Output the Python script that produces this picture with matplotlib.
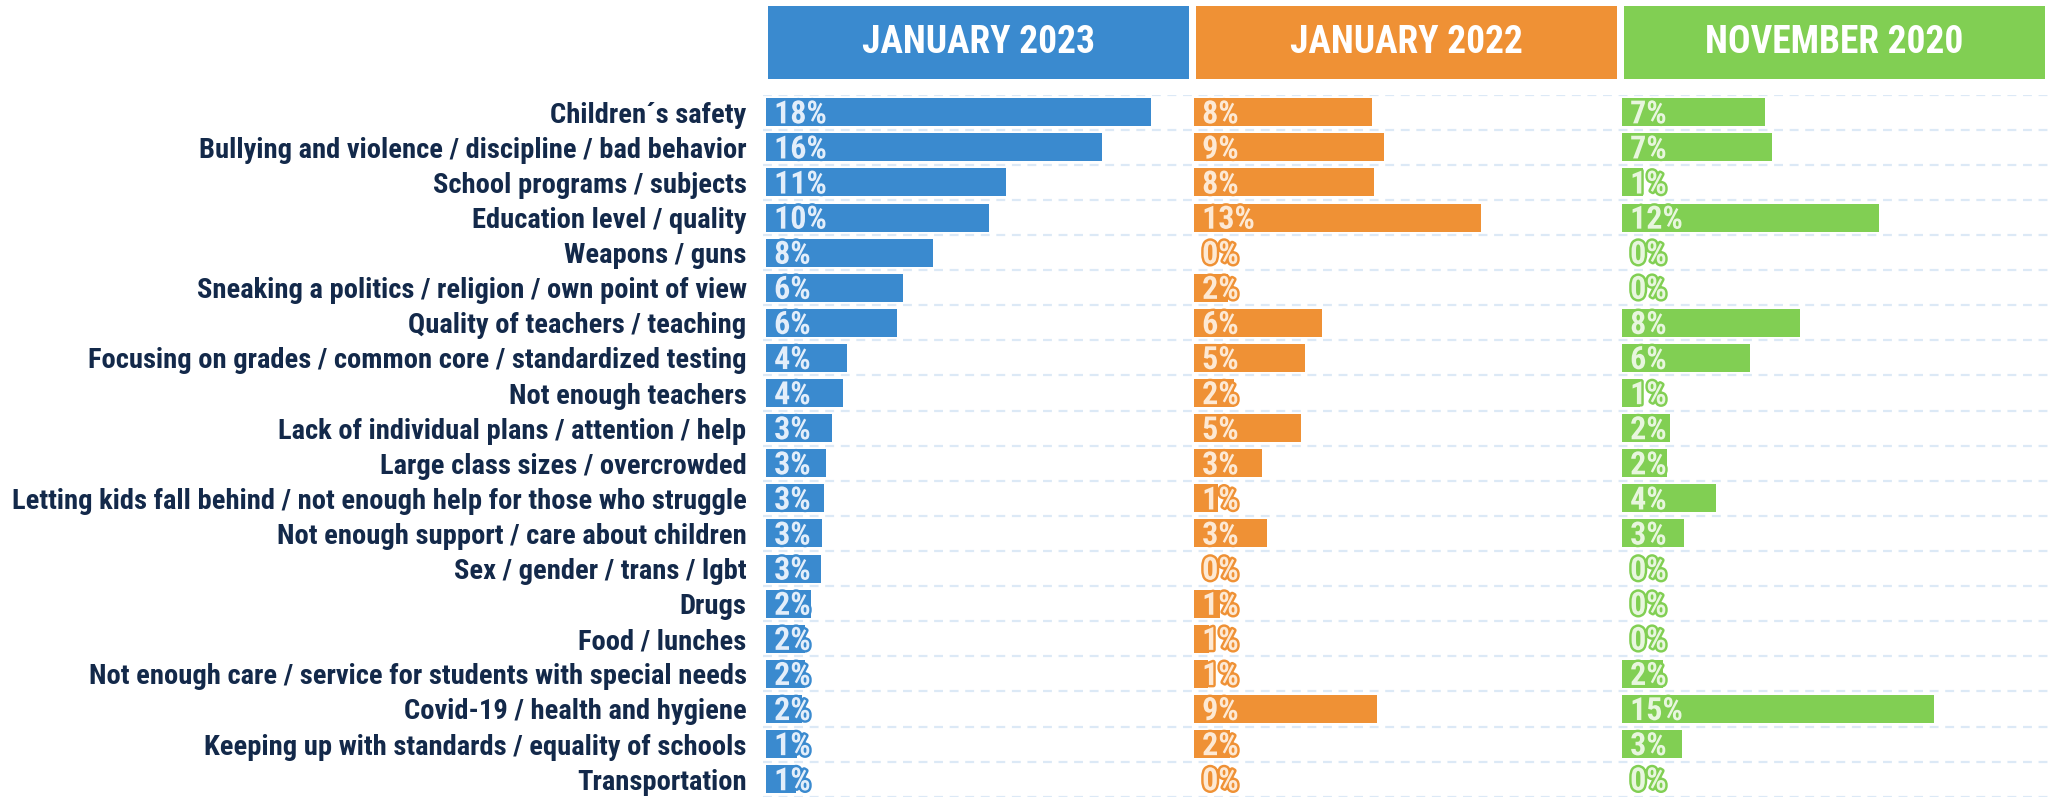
import matplotlib
matplotlib.use("Agg")
import matplotlib.pyplot as plt
import matplotlib.patheffects as pe
from matplotlib import font_manager

categories = [
    "Children´s safety",
    "Bullying and violence / discipline / bad behavior",
    "School programs / subjects",
    "Education level / quality",
    "Weapons / guns",
    "Sneaking a politics / religion / own point of view",
    "Quality of teachers / teaching",
    "Focusing on grades / common core / standardized testing",
    "Not enough teachers",
    "Lack of individual plans / attention / help",
    "Large class sizes / overcrowded",
    "Letting kids fall behind / not enough help for those who struggle",
    "Not enough support / care about children",
    "Sex / gender / trans / lgbt",
    "Drugs",
    "Food / lunches",
    "Not enough care / service for students with special needs",
    "Covid-19 / health and hygiene",
    "Keeping up with standards / equality of schools",
    "Transportation",
]

periods = ["JANUARY 2023", "JANUARY 2022", "NOVEMBER 2020"]

jan_2023 = [18.0, 15.7, 11.2, 10.4, 7.8, 6.4, 6.1, 3.8, 3.6, 3.1,
            2.8, 2.7, 2.6, 2.55, 2.1, 1.8, 1.8, 1.7, 1.45, 1.4]
jan_2022 = [8.3, 8.9, 8.4, 13.4, 0.0, 1.6, 6.0, 5.2, 1.85, 5.0,
            3.2, 1.1, 3.4, 0.0, 1.2, 0.7, 0.65, 8.55, 1.7, 0.0]
nov_2020 = [6.7, 7.0, 1.0, 12.0, 0.0, 0.0, 8.3, 6.0, 0.85, 2.25,
            2.1, 4.4, 2.9, 0.0, 0.0, 0.0, 1.9, 14.6, 2.8, 0.0]

series = [jan_2023, jan_2022, nov_2020]
colors = ["#3a8acf", "#ef9135", "#81cf53"]
text_colors = ["#e3eefa", "#fde9d4", "#e8f6de"]
navy = "#13294a"

# pick a condensed font if one is installed
avail = {f.name for f in font_manager.fontManager.ttflist}
font = "Liberation Sans"
stretch = "normal"
for cand in ["Liberation Sans Narrow", "Roboto Condensed", "Open Sans Condensed"]:
    if cand in avail:
        font = cand
        break
else:
    font = "Noto Sans"
    stretch = "condensed"

plt.rcParams["font.family"] = [font, "DejaVu Sans"]
plt.rcParams["font.stretch"] = stretch

W, H = 2053, 801
fig = plt.figure(figsize=(W / 100, H / 100), dpi=100)

n = len(categories)
top_px, bot_px = 94.7, 796.7
px_per_unit = 21.4
panel_w = 424
lefts = [766, 1194, 1622]

def fx(px):
    return px / W

def fy(px):
    return 1 - px / H

# background axis for dashed row separators
bg = fig.add_axes([fx(763), fy(bot_px), fx(W - 763), (bot_px - top_px) / H])
bg.set_ylim(n - 0.5, -0.5)
bg.set_xlim(0, 1)
for i in range(n + 1):
    bg.axhline(i - 0.5, color="#dce9f6", lw=1.6, ls=(0, (4, 3)))
bg.axis("off")

for k, (vals, col, tcol, title) in enumerate(zip(series, colors, text_colors, periods)):
    ax = fig.add_axes([fx(lefts[k]), fy(bot_px), fx(panel_w), (bot_px - top_px) / H])
    ax.patch.set_alpha(0)
    ax.barh(range(n), vals, height=0.8, color=col)
    ax.set_xlim(0, panel_w / px_per_unit)
    ax.set_ylim(n - 0.5, -0.5)
    for s in ax.spines.values():
        s.set_visible(False)
    ax.set_xticks([])
    if k == 0:
        ax.set_yticks(range(n))
        ax.set_yticklabels(categories, fontsize=20.5, fontweight="bold", color=navy)
        ax.tick_params(axis="y", length=0, pad=14)
    else:
        ax.set_yticks([])
    for i, v in enumerate(vals):
        ax.text(0.38, i + 0.06, "{:.0f}%".format(v), ha="left", va="center",
                fontsize=23, fontweight="bold", color=tcol,
                path_effects=[pe.withStroke(linewidth=3.5, foreground=col)])

    # header box
    hx = fig.add_axes([fx(lefts[k] + 2), fy(79), fx(421), 73 / H])
    hx.set_facecolor(col)
    hx.set_xticks([])
    hx.set_yticks([])
    for s in hx.spines.values():
        s.set_visible(False)
    hx.text(0.5, 0.5, title, ha="center", va="center", fontsize=27,
            fontweight="bold", color="white", transform=hx.transAxes)

fig.savefig("out.png", dpi=100)
